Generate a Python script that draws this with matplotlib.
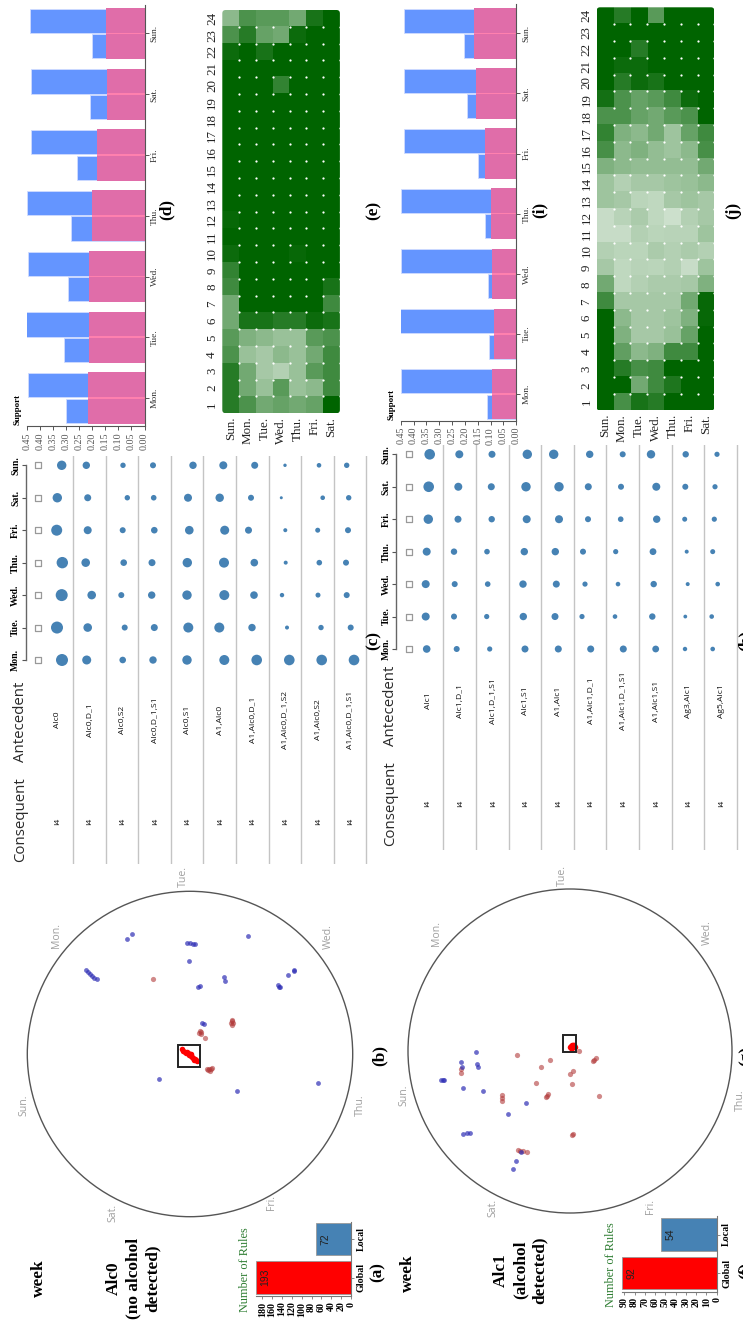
import matplotlib
matplotlib.use("Agg")
import matplotlib.pyplot as plt
import numpy as np
from matplotlib.colors import LinearSegmentedColormap
from matplotlib.patches import Circle, Rectangle, FancyBboxPatch

DAYS = ["Mon.", "Tue.", "Wed.", "Thu.", "Fri.", "Sat.", "Sun."]
HEAT_ROWS = ["Sun.", "Mon.", "Tue.", "Wed.", "Thu.", "Fri.", "Sat."]
HOURS = list(range(1, 25))

# Support bars (Mon..Sun)
d_small = [.302, .307, .294, .283, .259, .210, .202]
d_large = [.447, .452, .447, .450, .434, .434, .440]
d_overlap = [.215, .213, .2125, .202, .183, .144, .148]
i_small = [.113, .106, .109, .120, .148, .193, .203]
i_large = [.449, .4525, .449, .450, .436, .436, .438]
i_overlap = [.096, .087, .093, .100, .120, .158, .163]

# Heatmap (e): opacity per hour 1..24
e_sun = [.85, .85, .85, .7, .65, .55, .55, .75, .8, .95, 1, .97, 1, 1, 1, 1, 1, 1, 1, 1, 1, .95, .7, .45]
e_mon = [.7, .55, .55, .4, .5, .9, 1, 1, 1, 1, 1, 1, 1, 1, 1, 1, 1, 1, 1, 1, 1, 1, .85, .7]
e_tue = [.55, .4, .35, .35, .45, .9, 1, 1, 1, 1, 1, 1, 1, 1, 1, 1, 1, 1, 1, 1, 1, .9, .6, .65]
e_wed = [.6, .65, .3, .45, .4, .85, 1, 1, 1, 1, 1, 1, 1, 1, 1, 1, 1, 1, 1, .8, 1, 1, .55, .65]
e_thu = [.55, .4, .4, .4, .4, .85, 1, 1, 1, .97, 1, 1, 1, 1, 1, 1, 1, 1, 1, 1, 1, 1, .95, .55]
e_fri = [.6, .45, .65, .55, .65, .95, 1, 1, 1, 1, 1, 1, 1, 1, 1, 1, 1, 1, 1, 1, 1, 1, 1, .9]
e_sat = [1, .75, .75, .75, .7, .9, .75, .9, 1, 1, 1, 1, 1, 1, 1, 1, 1, 1, 1, 1, 1, 1, 1, 1]

# Heatmap (j)
j_sun = [1, 1, 1, 1, 1, 1, .75, .55, .35, .3, .22, .22, .38, .38, .5, .72, .8, .7, .92, 1, 1, 1, 1, 1]
j_mon = [.72, 1, .85, .62, .5, .45, .35, .25, .25, .27, .22, .28, .35, .3, .45, .45, .5, .7, .7, .85, .95, 1, 1, .85]
j_tue = [.9, .55, .72, .45, .35, .35, .35, .3, .28, .27, .3, .33, .27, .35, .42, .5, .45, .6, .6, .95, .95, .85, 1, 1]
j_wed = [.85, .75, .75, .5, .35, .35, .35, .33, .27, .33, .27, .25, .25, .35, .42, .42, .55, .55, .65, .9, 1, 1, 1, .65]
j_thu = [1, .88, 1, .75, .4, .38, .35, .33, .3, .3, .28, .2, .35, .38, .42, .38, .38, .65, .75, 1, 1, 1, 1, 1]
j_fri = [1, 1, 1, .75, .6, .5, .55, .35, .22, .33, .28, .3, .38, .4, .42, .45, .6, .7, .95, 1, 1, 1, 1, 1]
j_sat = [1, 1, 1, 1, 1, .97, .97, .5, .38, .3, .38, .35, .35, .45, .55, .72, .75, 1, 1, 1, 1, 1, 1, 1]

# Rule tables (c) and (h)
c_antecedents = ["Alc0", "Alc0,D_1", "Alc0,S2", "Alc0,D_1,S1", "Alc0,S1", "A1,Alc0",
                 "A1,Alc0,D_1", "A1,Alc0,D_1,S2", "A1,Alc0,S2", "A1,Alc0,D_1,S1"]
c_radius = [
    [6, 6, 6, 5.7, 5.5, 4.7, 4.7], [4.5, 4.3, 4.3, 4.3, 4, 3.5, 3.7],
    [3.3, 3, 3, 3.3, 3, 2.7, 2.7], [3.7, 3.5, 3.7, 3.5, 3.3, 2.8, 3],
    [4.7, 5, 4.7, 4.7, 4.3, 4, 3.7], [5, 5, 5, 5, 4.5, 4.2, 4],
    [5.3, 3.7, 3.8, 3.8, 3.5, 3, 3.5], [5.3, 2, 2.2, 2, 2, 1.5, 1.7],
    [5.3, 2.7, 2.5, 2.8, 2.5, 2.3, 2.3], [5.3, 3, 3, 3, 3, 2.7, 2.7]]
c_shift = [
    [4.5, -.5, 4.2, 4.8, -.8, -.2, 4.2], [-3.4, -2.4, 1.6, -4.4, -2.4, -2.4, -3.8],
    [0, 2, -1.4, 1, 0, 4.6, .3], [-2.3, -1, -3.6, -3.3, -1, -1.6, -2.3],
    [-.9, .4, -.9, -.6, 1.4, .1, 5.1], [3.8, -1.2, 3.8, 3.5, 4.2, -.8, 2.8],
    [3.6, -1.1, .9, 1.2, -4.6, -2.1, 1.6], [3.6, 1.3, -3.7, 0, -.4, -4.4, -.7],
    [3.4, 2.7, -.3, 1, -.6, 4.4, .7], [3.1, -.2, -4.2, -4.9, -2.9, -2.2, -4.2]]
h_antecedents = ["Alc1", "Alc1,D_1", "Alc1,D_1,S1", "Alc1,S1", "A1,Alc1", "A1,Alc1,D_1",
                 "A1,Alc1,D_1,S1", "A1,Alc1,S1", "Ag3,Alc1", "Ag5,Alc1"]
h_radius = [
    [3.8, 4, 4, 4, 4.7, 5.3, 5.3], [3, 3, 3, 3.2, 3.5, 4, 4],
    [2.6, 2.6, 2.8, 2.8, 3.2, 3.5, 3.5], [3.5, 3.7, 3.7, 3.7, 4, 4.7, 4.7],
    [3.5, 3.5, 3.5, 3.7, 4, 4.7, 4.7], [3.5, 2.6, 2.6, 3, 3, 3.5, 3.7],
    [3.5, 2.3, 2.3, 2.6, 2.8, 3, 3], [3.4, 3.2, 3.2, 3.4, 3.7, 4, 4.2],
    [2.2, 1.9, 2, 2, 2.5, 3, 3.2], [2.3, 2.3, 2.3, 2.5, 2.6, 2.6, 2.6]]
h_shift = [
    [-1.3, -2.3, -2.3, -1.3, .3, .7, 1.7], [-3.9, -6.6, -5.9, -6.6, -2.6, -2.3, -1.3],
    [-3.5, -6.5, -5.5, -6.2, -1.5, -1.9, -1.2], [-.8, -2.5, -2.8, -1.5, .9, .2, 1.5],
    [-.1, -3.4, -2.1, -3.1, .6, .6, -4.7], [-.3, -9, -6, -8, -3, -2.7, -1.3],
    [-.3, -8.6, -5.6, -7.9, -2.9, -2.6, -.9], [-.5, -3.9, -2.5, -3.2, .5, .1, -5.2],
    [-3.8, -3.5, -1.1, -2.1, -4.1, -3.5, -3.1], [-8.7, -9.7, -3.7, -8.7, -7.1, -6.4, -4.4]]

# RadViz projections
b_blue = [(-63.3, 114.7), (-57.7, 120), (-3, 111), (0, 111.3), (3, 110.5), (5, 110.5), (-1.3, 93),
          (-104, 84), (-102, 82), (-100, 80), (-98, 78), (-96, 76), (-93.3, 75), (10, 68.3), (7.5, 67.5),
          (34.3, 76.7), (35, 73), (58.3, 118.3), (11.7, 31), (14, 30), (-31, -25), (46.7, -36.7),
          (88.3, 69), (89, 67), (90, 67.5), (98.3, 78.7), (104.3, 83.7), (104, 83), (127.7, -29.3)]
b_brown = [(-37.3, 75.3), (42, 33), (41, 31), (43, 31), (42, 29), (41.5, 34), (10, 23), (11, 22), (9, 21),
           (10.5, 20), (15.3, 16.3), (17, -15), (19, -15), (21, -15), (20, -16.5), (18, -16), (22, -14)]
b_red = [(-8, 5), (-7, 3), (-5.5, 2), (-4, 1), (-3, 2.5), (-2, 1), (-1, -1), (0, 0), (1, -2), (2, -3),
         (1, 0), (3, -4), (4, -6), (5, -5), (6, -6), (7, -7)]
g_blue = [(-127.3, -29), (-129, -29), (-126, -29), (-109, -10.7), (-108.3, -15.7), (-106.7, -36.7), (-94, -1.3),
          (-92.7, -13.3), (-91.7, -16.3), (-86.7, -39.7), (-106.7, -83.3), (-103.3, -82.3), (-100, -81.7),
          (-44, -52.3), (-62, -62.7), (-49, -101.3), (-54, -109.7), (-57.3, -117.7)]
g_brown = [(-109, -18.3), (-109.3, -21.7), (-53.3, -4), (-19.7, -9.3), (-29, -16.3), (-34, -31.7), (-23.3, -44.7),
           (-22.5, -43), (-24, -46), (-68.3, -44), (-68.3, -47.3), (-68, -50.3), (9, -.3), (25.7, -6.7), (23, -10.3),
           (24, -9), (3.3, -20), (.3, -22.7), (2, -33), (29, -45.3), (3.3, -83.3), (2, -84), (-50, -100),
           (-46.7, -100), (-43.3, -100.7), (-52, -99)]
g_red = [(0, 4), (1, 5), (2, 6), (3, 6.5), (4, 6), (1.5, 3.5), (3, 4), (4.5, 4), (.5, 3)]

# Rule counts
rule_types = ["Global", "Local"]
a_counts = [193, 72]
f_counts = [92, 54]

W, H = 743, 1322
SERIF = "Liberation Serif"
fig = plt.figure(figsize=(W / 100, H / 100), dpi=100)
fig.patch.set_facecolor("white")


def ax_px(x0, y0, x1, y1):
    ax = fig.add_axes([x0 / W, 1 - y1 / H, (x1 - x0) / W, (y1 - y0) / H])
    ax.patch.set_alpha(0)
    return ax


def label(x, y, s, size=12.4, weight="bold", family=SERIF, color="black", **kw):
    fig.text(x / W, 1 - y / H, s, rotation=90, ha="center", va="center", fontsize=size,
             fontweight=weight, family=family, color=color, linespacing=1.28, **kw)


def support_panel(rect, mon_px, step, small, large, overlap):
    x0, y0, x1, y1 = rect
    ax = ax_px(*rect)
    ax.set_xlim(.45, 0)
    ax.set_ylim((mon_px - y1) / step, (mon_px - y0) / step)
    pos = np.arange(7)
    ax.barh(pos - .21, small, height=.40, color="#6495FF", edgecolor="#cfdcff", linewidth=.6)
    ax.barh(pos + .21, large, height=.40, color="#6495FF", edgecolor="#cfdcff", linewidth=.6)
    ax.barh(pos, overlap, height=.84, color="#E06DA9", linewidth=0)
    ax.barh(pos, overlap, height=.025, color="#FF80AE", linewidth=0)
    for s in ("top", "left"):
        ax.spines[s].set_visible(False)
    for s in ("right", "bottom"):
        ax.spines[s].set_color("#555555")
        ax.spines[s].set_linewidth(.8)
    ax.yaxis.tick_right()
    ax.set_yticks(pos, DAYS, family=SERIF, fontsize=6.8, color="#333333", rotation=90, va="center")
    ticks = np.arange(0, .46, .05)
    ax.set_xticks(ticks, [f"{t:.2f}" for t in ticks], family=SERIF, fontsize=7.2, color="#555555", rotation=90)
    ax.tick_params(axis="both", length=3, width=.7, color="#555555", pad=1.5)


support_panel((27, 5, 144.5, 426), 398, 60.75, d_small, d_large, d_overlap)
support_panel((400.7, 4, 516.3, 420.7), 394, 60.1, i_small, i_large, i_overlap)
label(17.5, 410, "Support", size=6.4)
label(391.7, 404, "Support", size=6.4)

heat_cmap = LinearSegmentedColormap.from_list("greens", ["#ffffff", "#006400"])


def heat_panel(x0, y0, columns):
    cell = 16.8
    x1, y1 = x0 + 7 * cell, y0 + 24 * cell
    ax = ax_px(x0, y0, x1, y1)
    grid = np.array(columns).T
    im = ax.imshow(grid, origin="lower", extent=(0, 7, .5, 24.5), aspect="auto",
                   cmap=heat_cmap, vmin=0, vmax=1, interpolation="nearest")
    clip = FancyBboxPatch((.12, .62), 6.76, 23.76, boxstyle="round,pad=0.12,rounding_size=0.2",
                          transform=ax.transData, facecolor="none", edgecolor="none",
                          mutation_aspect=1)
    ax.add_patch(clip)
    im.set_clip_path(clip)
    cx, cy = np.meshgrid(np.arange(1, 8), np.arange(1.5, 24.5))
    ax.scatter(cx.ravel(), cy.ravel(), s=2.6, color="white", linewidths=0, zorder=3, clip_on=False)
    ax.set_xlim(0, 7)
    ax.set_ylim(.5, 24.5)
    for s in ax.spines.values():
        s.set_visible(False)
    ax.set_xticks(np.arange(.5, 7.5), HEAT_ROWS, family=SERIF, fontsize=9.4, color="#222222", rotation=90)
    ax.set_yticks(HOURS, [str(h) for h in HOURS], family=SERIF, fontsize=9.4, color="#222222", rotation=90, va="center")
    ax.tick_params(axis="both", length=0)
    ax.tick_params(axis="x", pad=2.5)
    ax.tick_params(axis="y", pad=3)


heat_panel(222.3, 10, [e_sun, e_mon, e_tue, e_wed, e_thu, e_fri, e_sat])
heat_panel(596.7, 7.3, [j_sun, j_mon, j_tue, j_wed, j_thu, j_fri, j_sat])

ROW = 32.6
DAY = 32.45


def rule_table(axis_x, right_x, first_row, mon_px, top_px, bottom_px, box_x, names, radius, shift,
               ant_y, cons_y, head_x, ant_head_y, cons_head_y):
    ax = ax_px(axis_x, top_px, right_x, bottom_px)
    ax.set_xlim((axis_x - first_row) / ROW, (right_x - first_row) / ROW)
    ax.set_ylim((mon_px - bottom_px) / DAY, (mon_px - top_px) / DAY)
    for s in ("top", "right", "bottom"):
        ax.spines[s].set_visible(False)
    ax.spines["left"].set_bounds(0, 6)
    ax.spines["left"].set_color("#666666")
    ax.spines["left"].set_linewidth(1)
    ax.set_xticks([])
    ax.yaxis.set_ticks(range(7), DAYS, family=SERIF, fontsize=7, fontweight="bold",
                       rotation=90, va="center")
    ax.tick_params(axis="y", length=3, width=.8, color="#555555", pad=1)
    dy = np.arange(7)
    ax.scatter(np.full(7, (box_x - first_row) / ROW), dy, marker="s", s=15, facecolor="white",
               edgecolor="#999999", linewidth=.9)
    for i, name in enumerate(names):
        ax.scatter(i + np.array(shift[i]) / ROW, dy, s=(2 * np.array(radius[i]) * .72) ** 2,
                   color="#4682B4", linewidths=0, zorder=3, clip_on=False)
        ax.axvline(i + .475, color="#c4c4c4", lw=1)
        ax.text(i, (mon_px - ant_y) / DAY, name, rotation=90, ha="center", va="center",
                family="Open Sans", fontsize=6.1, color="#111111")
        ax.text(i, (mon_px - cons_y) / DAY, "I4", rotation=90, ha="center", va="center",
                family="Open Sans", fontsize=6.1, color="#111111")
    label(head_x, ant_head_y, "Antecedent", size=10.8, weight="normal", family="Open Sans", color="#2a2a2a")
    label(head_x, cons_head_y, "Consequent", size=10.8, weight="normal", family="Open Sans", color="#2a2a2a")


rule_table(25.5, 372, 57.5, 660, 456, 864, 37.7, c_antecedents, c_radius, c_shift, 720, 821.7, 21, 722, 819.5)
rule_table(396.3, 740, 428, 649, 445, 850, 408.7, h_antecedents, h_radius, h_shift, 701, 803, 390.5, 705.5, 804)


def radviz(cx, cy, r, blue, brown, red, box):
    ax = ax_px(cx - r, cy - r, cx + r, cy + r)
    ax.set_xlim(-r, r)
    ax.set_ylim(-r, r)
    ax.axis("off")
    ax.add_patch(Circle((0, 0), r, facecolor="none", edgecolor="#555555", lw=1, clip_on=False))
    for pts, col, alpha, size in ((brown, "#B23A3A", .6, 14), (blue, "#2F2FB5", .7, 12), (red, "#FF0000", 1, 16)):
        xy = np.array(pts)
        ax.scatter(xy[:, 0], xy[:, 1], s=size, color=col, alpha=alpha, linewidths=0)
    ax.add_patch(Rectangle(box[:2], box[2], box[3], facecolor="none", edgecolor="#222222", lw=1.4))


radviz(190, 1054, 162.7, b_blue, b_brown, b_red, (-11.7, -12.7, 21.4, 21.7))
radviz(570, 1051, 162, g_blue, g_brown, g_red, (-7.3, -1, 13.3, 16.7))

for d, x, y in zip(DAYS, [56, 183, 328, 360, 271.7, 113, 24], [935, 876.7, 936.7, 1105, 1203, 1213, 1105]):
    label(x, y, d, size=7.6, weight="normal", family="Open Sans", color="#a0a0a0")
for d, x, y in zip(DAYS, [436.7, 562.7, 707.3, 740, 651, 492.7, 404], [933, 875, 933, 1100, 1207, 1208, 1095]):
    label(x, y, d, size=7.6, weight="normal", family="Open Sans", color="#a0a0a0")


def count_panel(rect, mid, step, counts, tick_vals, xmax):
    x0, y0, x1, y1 = rect
    ax = ax_px(*rect)
    ax.set_xlim(xmax, 0)
    ax.set_ylim((mid - y1) / step, (mid - y0) / step)
    bars = ax.barh([0, 1], counts, height=.83, color=["#FF0000", "#4682B4"], edgecolor="#999999", linewidth=.6)
    for b, v in zip(bars, counts):
        ax.text(v - (xmax * .10), b.get_y() + b.get_height() / 2, str(v), rotation=90, ha="center", va="center",
                family="Liberation Sans", fontsize=7.5, color="#222222")
    for s in ("top", "left"):
        ax.spines[s].set_visible(False)
    for s in ("right", "bottom"):
        ax.spines[s].set_color("#777777")
        ax.spines[s].set_linewidth(.8)
    ax.yaxis.tick_right()
    ax.set_yticks([0, 1], rule_types, family=SERIF, fontsize=7.2, fontweight="bold", rotation=90, va="center")
    ax.set_xticks(tick_vals, [str(t) for t in tick_vals], family=SERIF, fontsize=7.2, fontweight="bold", rotation=90)
    ax.tick_params(axis="both", length=2.5, width=.6, color="#777777", pad=1.5)


count_panel((256, 1222, 351, 1296), 1277.5, 38.6, a_counts, list(range(0, 181, 20)), 192.8)
count_panel((622, 1216, 716.7, 1291.7), 1273.3, 38.8, f_counts, list(range(0, 91, 10)), 92.3)
label(245, 1270, "Number of Rules", size=8.8, weight="normal", color="#2E7D32")
label(610.7, 1265, "Number of Rules", size=8.8, weight="normal", color="#2E7D32")

label(39, 1278, "week")
label(408, 1273, "week")
label(133, 1278, "Alc0\n(no alcohol\ndetected)")
label(520.5, 1270, "Alc1\n(alcohol\ndetected)")

for s, x, y in (("(a)", 377.7, 1271.7), ("(b)", 379.3, 1055), ("(c)", 373.3, 640), ("(d)", 166.7, 210),
                ("(e)", 373.3, 210), ("(i)", 540, 210), ("(j)", 733, 210), ("(f)", 746, 1270),
                ("(g)", 746.5, 1056), ("(h)", 746, 640)):
    label(x, y, s)

fig.savefig("out.png", dpi=100)
